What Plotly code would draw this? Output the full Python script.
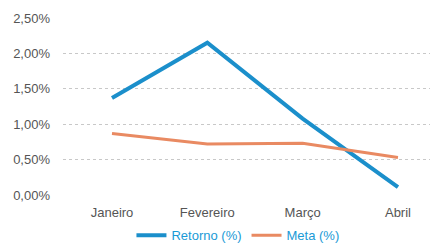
import plotly.graph_objects as go

meses = ["Janeiro", "Fevereiro", "Março", "Abril"]
retorno = [1.37, 2.15, 1.08, 0.11]
meta = [0.87, 0.72, 0.73, 0.53]
tick_vals = [0, 0.5, 1.0, 1.5, 2.0, 2.5]
tick_text = ["0,00%", "0,50%", "1,00%", "1,50%", "2,00%", "2,50%"]

fig = go.Figure()
fig.add_trace(go.Scatter(x=meses, y=retorno, mode="lines", name="Retorno (%)",
                         line=dict(color="#1b8fcb", width=4)))
fig.add_trace(go.Scatter(x=meses, y=meta, mode="lines", name="Meta (%)",
                         line=dict(color="#e98a62", width=3)))

fig.update_layout(
    width=438, height=243,
    margin=dict(l=55, r=8, t=10, b=56, autoexpand=False),
    paper_bgcolor="white", plot_bgcolor="white",
    font=dict(family="Liberation Sans, Arial, sans-serif", size=13, color="#555555"),
    showlegend=True,
    legend=dict(orientation="h", x=0.525, xanchor="center", xref="container",
                y=0.065, yanchor="middle", yref="container",
                font=dict(color="#1a9ad6", size=13), itemwidth=30,
                tracegroupgap=0, bgcolor="rgba(0,0,0,0)"),
    xaxis=dict(range=[-0.514, 3.42], showgrid=False, showline=False, ticks="",
               zeroline=False, automargin=False, ticklabelstandoff=8,
               tickfont=dict(size=13, color="#555555")),
    yaxis=dict(range=[0, 2.5], tickvals=tick_vals, ticktext=tick_text,
               showgrid=True, gridcolor="#c8c8c8", griddash="dot", gridwidth=1,
               zeroline=False, showline=False, ticks="", ticklabelstandoff=12,
               automargin=False, tickfont=dict(size=13, color="#555555")),
)
fig.write_html("out.html")
